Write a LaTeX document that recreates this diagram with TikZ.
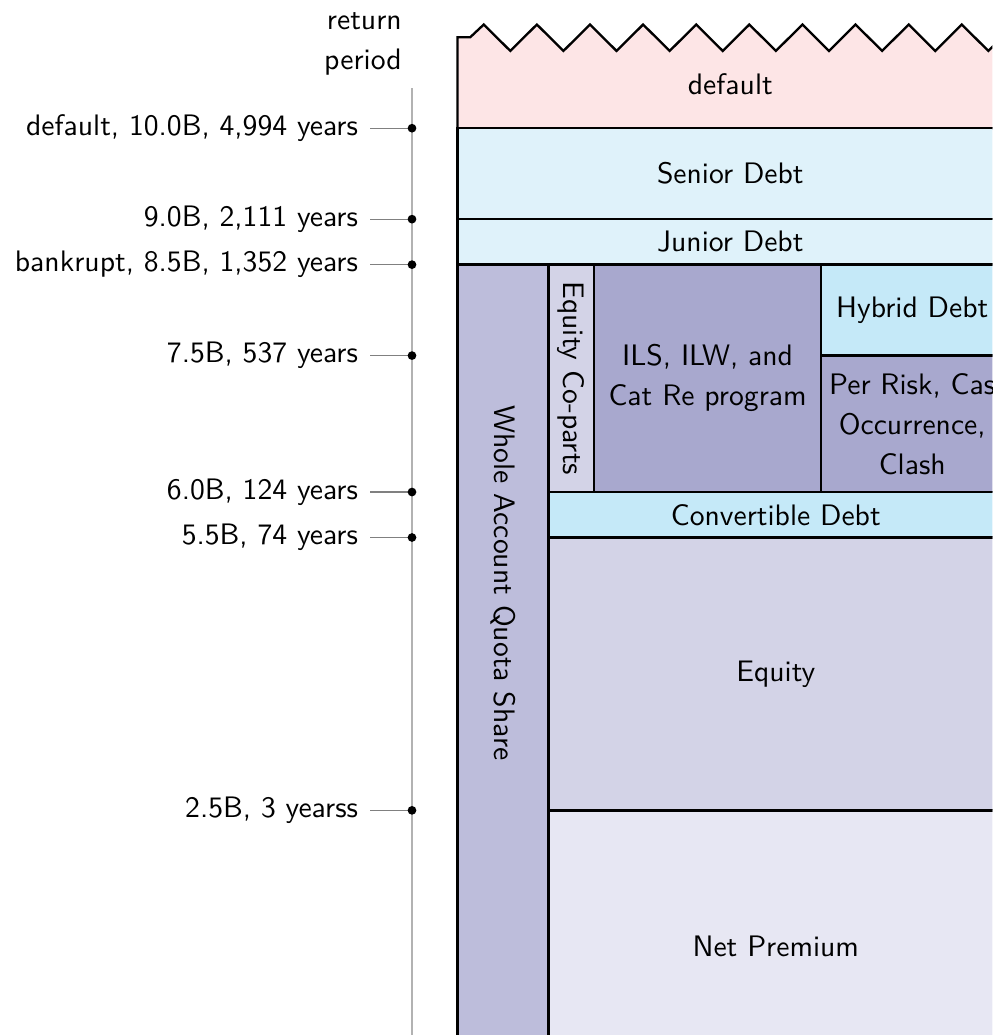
\documentclass[tikz,border=0pt]{standalone}
\usepackage{tikz}
\usetikzlibrary{positioning}

\definecolor{defaultred}{HTML}{FDE5E6}
\definecolor{seniorblue}{HTML}{DFF2FA}
\definecolor{hybridblue}{HTML}{C5E9F8}
\definecolor{quotapurple}{HTML}{BDBDDB}
\definecolor{equitypurple}{HTML}{D3D3E7}
\definecolor{catpurple}{HTML}{A8A8CE}
\definecolor{premiumpurple}{HTML}{E7E7F3}

\begin{document}
\begin{tikzpicture}[x=1.1cm,y=1.1cm,font=\sffamily\fontsize{10.2}{13.8}\selectfont,
	layer/.style={draw=black,thick},
	ticklabel/.style={left,inner sep=4pt,text=black},
	tickline/.style={black!50,thin},
	axisline/.style={black!30,line width=0.7pt}]
	\useasboundingbox (-4.53,0.03) rectangle (6.38,11.41);
	\clip (-4.53,0.03) rectangle (6.38,11.41);
	% return period axis
	\node[align=right,anchor=south east] (retper) at (0,10.47) {return\\period};
	\coordinate (axtop) at (0,10.44);
	\coordinate (axbot) at (0,-0.5);
	\draw[axisline] (axtop) -- (axbot);
	\foreach \y/\lab [count=\i] in {10.0/{default, 10.0B, 4,994 years}, 9.0/{9.0B, 2,111 years}, 8.5/{bankrupt, 8.5B, 1,352 years}, 7.5/{7.5B, 537 years}, 6.0/{6.0B, 124 years}, 5.5/{5.5B, 74 years}, 2.5/{2.5B, 3 yearss}}
	{
		\coordinate (rp\i) at (0,\y);
		\draw[tickline] (rp\i) -- ++(-0.46,0) node[ticklabel] (lab\i) {\lab};
		\fill (rp\i) circle (1.5pt);
	}
	% capital stack
	\draw[layer,fill=defaultred] (0.5,10) -- (0.5,11) -- (0.64,11)
		\foreach \k in {0,...,9} { -- ({0.789+0.584*\k},11.14) -- ({1.081+0.584*\k},10.85) }
		-- (6.5,11.01) -- (6.5,10) -- cycle;
	\node (default) at (3.5,10.48) {default};
	\draw[layer,fill=seniorblue] (0.5,9) rectangle node (senior) {Senior Debt} (6.5,10);
	\draw[layer,fill=seniorblue] (0.5,8.5) rectangle node (junior) {Junior Debt} (6.5,9);
	\draw[layer,fill=quotapurple] (0.5,-0.5) rectangle (1.5,8.5);
	\node[rotate=-90] (quota) at (1,5) {Whole Account Quota Share};
	\draw[layer,fill=equitypurple] (1.5,6) rectangle node[rotate=-90] (coparts) {Equity Co-parts} (2,8.5);
	\draw[layer,fill=catpurple] (2,6) rectangle node[align=center] (ils) {ILS, ILW, and\\Cat Re program} (4.5,8.5);
	\draw[layer,fill=hybridblue] (4.5,7.5) rectangle node (hybrid) {Hybrid Debt} (6.5,8.5);
	\draw[layer,fill=catpurple] (4.5,6) rectangle node[align=center] (perrisk) {Per Risk, Cas\\Occurrence,\\Clash} (6.5,7.5);
	\draw[layer,fill=hybridblue] (1.5,5.5) rectangle node (convert) {Convertible Debt} (6.5,6);
	\draw[layer,fill=equitypurple] (1.5,2.5) rectangle node (equity) {Equity} (6.5,5.5);
	\draw[layer,fill=premiumpurple] (1.5,-0.5) rectangle node (premium) {Net Premium} (6.5,2.5);
\end{tikzpicture}
\end{document}
